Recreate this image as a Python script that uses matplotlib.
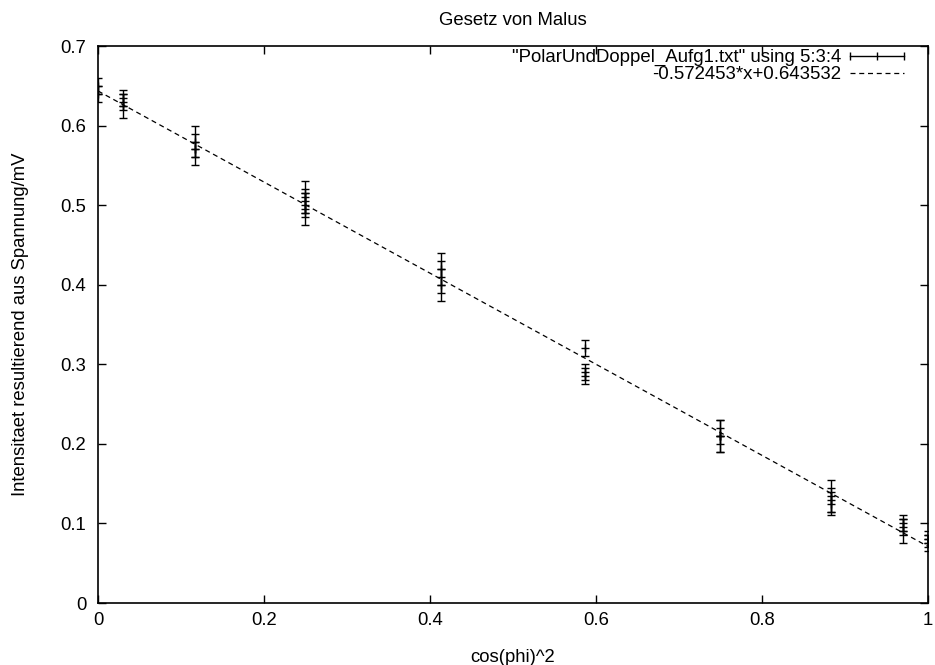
import matplotlib.pyplot as plt
import numpy as np
from matplotlib.lines import Line2D

plt.rcParams['font.family'] = ['Liberation Sans', 'DejaVu Sans']
plt.rcParams['font.size'] = 13.3

# cos(phi)^2 for phi = 90, 80, ..., 0 degrees, with the repeated measurements
cos2 = [0.0, 0.0, 0.0302, 0.0302, 0.0302, 0.117, 0.117, 0.117,
        0.25, 0.25, 0.25, 0.25, 0.413, 0.413, 0.413,
        0.587, 0.587, 0.587, 0.75, 0.75, 0.75,
        0.883, 0.883, 0.883, 0.970, 0.970, 0.970, 1.0, 1.0, 1.0]
intensity = [0.65, 0.64, 0.635, 0.625, 0.63, 0.58, 0.57, 0.57,
             0.51, 0.50, 0.495, 0.505, 0.42, 0.41, 0.40,
             0.32, 0.29, 0.285, 0.21, 0.21, 0.21,
             0.135, 0.13, 0.125, 0.10, 0.095, 0.09, 0.08, 0.075, 0.08]
err = [0.01, 0.01, 0.01, 0.015, 0.01, 0.02, 0.02, 0.01,
       0.02, 0.015, 0.02, 0.015, 0.02, 0.02, 0.02,
       0.01, 0.01, 0.01, 0.02, 0.01, 0.02,
       0.02, 0.015, 0.015, 0.01, 0.01, 0.015, 0.01, 0.01, 0.005]

slope = -0.572453
offset = 0.643532

fig = plt.figure(figsize=(9.35, 6.65), dpi=100)
ax = fig.add_axes([0.1048, 0.0932, 0.8877, 0.8376])

ax.errorbar(cos2, intensity, yerr=err, fmt='+', color='black', ms=6,
            mew=1, elinewidth=1, capsize=2.9, capthick=1)

xs = np.linspace(0, 1, 200)
ax.plot(xs, slope * xs + offset, color='black', lw=0.9, dashes=(4, 3))

ax.set_xlim(0, 1)
ax.set_ylim(0, 0.7)
ax.set_xticks(np.arange(0, 1.01, 0.2))
ax.set_xticklabels(['0', '0.2', '0.4', '0.6', '0.8', '1'])
ax.set_yticks(np.arange(0, 0.71, 0.1))
ax.set_yticklabels(['0', '0.1', '0.2', '0.3', '0.4', '0.5', '0.6', '0.7'])
ax.tick_params(direction='in', length=6, width=1, top=True, right=True)
ax.tick_params(axis='x', pad=6.5)
ax.tick_params(axis='y', pad=8.5)
for s in ax.spines.values():
    s.set_linewidth(1.2)

ax.set_title('Gesetz von Malus', fontsize=13.3, pad=15)
ax.set_xlabel('cos(phi)^2')
ax.xaxis.set_label_coords(0.5, -0.083)
ax.set_ylabel('Intensitaet resultierend aus Spannung/mV')
ax.yaxis.set_label_coords(-0.083, 0.5)

eb_key = Line2D([], [], color='black', lw=1, marker='|', ms=6, mew=1)
fit_key = Line2D([], [], color='black', lw=0.9, dashes=(4, 3))
ax.legend([eb_key, fit_key],
          ['"PolarUndDoppel_Aufg1.txt" using 5:3:4', '-0.572453*x+0.643532'],
          loc='upper right', bbox_to_anchor=(0.978, 0.9946),
          frameon=False, markerfirst=False, numpoints=3, fontsize=13.4,
          handlelength=3.5, handletextpad=0.2, labelspacing=0,
          borderaxespad=0, borderpad=0)

fig.savefig('out.png', dpi=100)
